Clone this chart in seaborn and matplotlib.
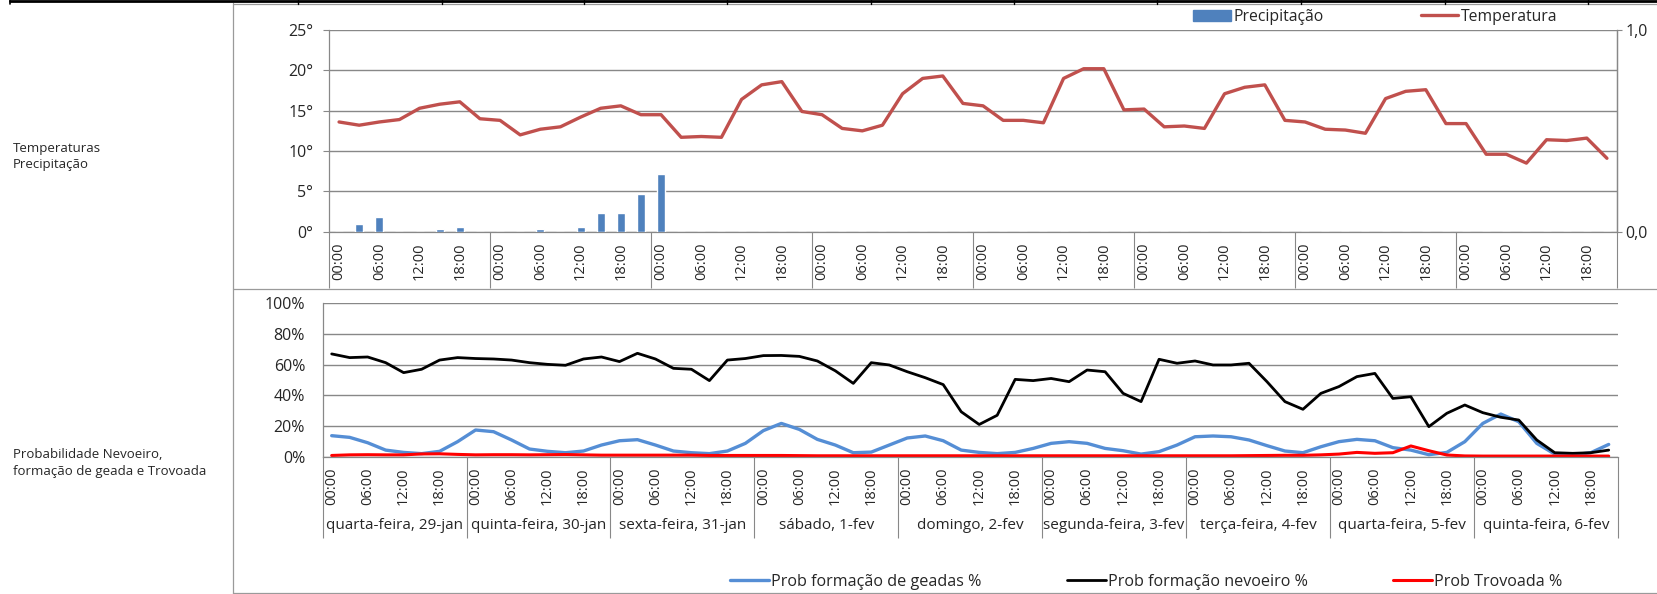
import numpy as np
import pandas as pd
import matplotlib
matplotlib.use('Agg')
import matplotlib.pyplot as plt
import seaborn as sns
from matplotlib.lines import Line2D
from matplotlib.patches import Patch

# dias e horas (eixo de categorias, passos de 3h)
days = ['quarta-feira, 29-jan', 'quinta-feira, 30-jan', 'sexta-feira, 31-jan',
        'sábado, 1-fev', 'domingo, 2-fev', 'segunda-feira, 3-fev',
        'terça-feira, 4-fev', 'quarta-feira, 5-fev', 'quinta-feira, 6-fev']
hour_labels = ['00:00', '', '06:00', '', '12:00', '', '18:00', '']

# painel de cima: 8 dias x 8
temperatura = [13.6, 13.2, 13.6, 13.9, 15.3, 15.8, 16.1, 14.0,
               13.8, 12.0, 12.7, 13.0, 14.2, 15.3, 15.6, 14.5,
               14.5, 11.7, 11.8, 11.7, 16.4, 18.2, 18.6, 14.9,
               14.5, 12.8, 12.5, 13.2, 17.1, 19.0, 19.3, 15.9,
               15.6, 13.8, 13.8, 13.5, 19.0, 20.2, 20.2, 15.1,
               15.2, 13.0, 13.1, 12.8, 17.1, 17.9, 18.2, 13.8,
               13.6, 12.7, 12.6, 12.2, 16.5, 17.4, 17.6, 13.4,
               13.4, 9.6, 9.6, 8.5, 11.4, 11.3, 11.6, 9.1]
precipitacao = [0, 0.9, 1.8, 0, 0, 0.3, 0.6, 0,
                0, 0, 0.3, 0, 0.6, 2.3, 2.3, 4.7,
                7.2, 0, 0, 0, 0, 0, 0, 0,
                0, 0, 0, 0, 0, 0, 0, 0,
                0, 0, 0, 0, 0, 0, 0, 0,
                0, 0, 0, 0, 0, 0, 0, 0,
                0, 0, 0, 0, 0, 0, 0, 0,
                0, 0, 0, 0, 0, 0, 0, 0]

# painel de baixo: 9 dias x 8 (%)
prob_nevoeiro = [67, 64.6, 65, 61.3, 54.8, 57, 63, 64.6,
                 64, 63.7, 63, 61.3, 60.2, 59.6, 63.7, 65,
                 62, 67.4, 63.7, 57.6, 57, 49.6, 63, 64,
                 65.9, 66, 65.4, 62.4, 56, 47.8, 61.3, 59.8,
                 55.4, 51.5, 47, 29.3, 21, 27, 50.4, 49.6,
                 51, 48.9, 56.5, 55.4, 41.3, 35.9, 63.5, 60.9,
                 62.4, 59.8, 59.8, 60.9, 48.9, 35.9, 30.9, 41.3,
                 45.7, 52.2, 54.3, 38, 39.1, 19.6, 28.3, 33.7,
                 28.7, 25.7, 23.9, 10.9, 2.6, 2.2, 2.6, 4.3]
prob_geada = [13.7, 12.6, 9.1, 4.3, 2.8, 2.0, 3.5, 9.8,
              17.4, 16.3, 10.9, 5.0, 3.5, 2.6, 3.7, 7.6,
              10.4, 11.1, 7.6, 3.7, 2.6, 2.0, 3.7, 8.7,
              17.0, 21.7, 17.8, 11.3, 7.6, 2.6, 3.0, 7.6,
              12.2, 13.5, 10.4, 4.3, 2.8, 2.0, 2.8, 5.4,
              8.7, 9.8, 8.7, 5.4, 3.9, 1.7, 3.3, 7.6,
              13.0, 13.5, 13.0, 10.9, 7.2, 3.7, 2.6, 6.5,
              9.8, 11.3, 10.4, 5.9, 4.3, 1.3, 2.8, 9.8,
              21.7, 27.8, 22.8, 8.7, 1.7, 1.1, 2.6, 8.0]
prob_trovoada = [0.8, 1.2, 1.3, 1.2, 1.2, 1.8, 1.9, 1.5,
                 1.2, 1.3, 1.3, 1.2, 1.3, 1.4, 1.2, 1.0,
                 1.0, 1.0, 1.0, 1.0, 1.0, 0.8, 0.8, 0.8,
                 0.8, 0.8, 0.7, 0.6, 0.6, 0.6, 0.6, 0.6,
                 0.6, 0.6, 0.6, 0.6, 0.6, 0.6, 0.6, 0.6,
                 0.6, 0.6, 0.6, 0.6, 0.6, 0.6, 0.6, 0.6,
                 0.6, 0.6, 0.6, 0.7, 0.8, 0.9, 0.9, 1.2,
                 1.7, 2.8, 2.2, 2.6, 7.0, 3.9, 1.1, 0.5,
                 0.4, 0.4, 0.4, 0.4, 0.4, 0.4, 0.4, 0.4]

c_bar = '#4F81BD'
c_temp = '#C0504D'
c_geada = '#558ED5'
c_nev = '#000000'
c_trov = '#FF0000'
c_grid = '#888888'

sns.set_style('white')
plt.rcParams['font.family'] = ['Open Sans', 'DejaVu Sans']
plt.rcParams['font.size'] = 10

W, H = 1657, 594
fig = plt.figure(figsize=(W / 100, H / 100), dpi=100)

def fx(px):
    return px / W

def fy(py):
    return 1 - py / H

# ---- painel de cima ----
ax1 = fig.add_axes([fx(329), fy(231.7), fx(1617 - 329), (231.7 - 30) / H])
n1 = len(temperatura)
top = pd.DataFrame({'pos': np.arange(n1), 'Temperatura': temperatura,
                    'Precipitação': precipitacao})
sns.barplot(data=top, x='pos', y='Precipitação', color=c_bar, saturation=1,
            width=0.4, native_scale=True, ax=ax1, zorder=3)
sns.lineplot(data=top, x='pos', y='Temperatura', color=c_temp, lw=2.4,
             ax=ax1, zorder=4)
ax1.set_xlim(-0.5, n1 - 0.5)
ax1.set_ylim(0, 25)
ax1.set_yticks(range(0, 26, 5))
ax1.set_yticklabels([f'{v}°' for v in range(0, 26, 5)])
ax1.set_xlabel('')
ax1.set_ylabel('')
ax1.grid(axis='y', color=c_grid, lw=1.0)
ax1.set_axisbelow(True)
ax1.set_xticks(np.arange(n1))
ax1.set_xticklabels(hour_labels * (n1 // 8))
ax1.set_xticks(np.arange(n1 + 1) - 0.5, minor=True)
ax1.tick_params(axis='x', which='major', length=0, pad=8, rotation=90, labelsize=10.5)
ax1.tick_params(axis='x', which='minor', length=36, color=c_grid, width=0.8)
ax1.tick_params(axis='y', length=4.3, color=c_grid, width=0.8, pad=7, labelsize=11.5)
for s in ax1.spines.values():
    s.set_color(c_grid)
    s.set_linewidth(0.9)
ax1.spines['top'].set_visible(False)

sec1 = ax1.secondary_xaxis('bottom')
sec1.set_xticks(np.arange(0, n1 + 1, 8) - 0.5)
sec1.set_xticklabels([])
sec1.tick_params(length=40, color=c_grid, width=0.8)
sec1.spines['bottom'].set_visible(False)

ax1r = ax1.twinx()
ax1r.set_ylim(0, 1)
ax1r.set_yticks([0, 1])
ax1r.set_yticklabels(['0,0', '1,0'])
ax1r.tick_params(axis='y', length=3.5, color=c_grid, width=0.8, pad=2.5, labelsize=11.5)
for k, s in ax1r.spines.items():
    s.set_visible(k == 'right')
    s.set_color(c_grid)
    s.set_linewidth(0.9)

# ---- painel de baixo ----
ax2 = fig.add_axes([fx(322.7), fy(456.7), fx(1617.7 - 322.7), (456.7 - 303.3) / H])
n2 = len(prob_nevoeiro)
bot = pd.DataFrame({'pos': np.arange(n2), 'geada': prob_geada,
                    'nevoeiro': prob_nevoeiro, 'trovoada': prob_trovoada})
sns.lineplot(data=bot, x='pos', y='geada', color=c_geada, lw=2.4, ax=ax2)
sns.lineplot(data=bot, x='pos', y='nevoeiro', color=c_nev, lw=2.0, ax=ax2)
sns.lineplot(data=bot, x='pos', y='trovoada', color=c_trov, lw=2.2, ax=ax2)
ax2.set_xlim(-0.5, n2 - 0.5)
ax2.set_ylim(0, 100)
ax2.set_yticks(range(0, 101, 20))
ax2.set_yticklabels([f'{v}%' for v in range(0, 101, 20)])
ax2.set_xlabel('')
ax2.set_ylabel('')
ax2.grid(axis='y', color=c_grid, lw=1.0)
ax2.set_axisbelow(True)
ax2.set_xticks(np.arange(n2))
ax2.set_xticklabels(hour_labels * len(days))
ax2.set_xticks(np.arange(n2 + 1) - 0.5, minor=True)
ax2.tick_params(axis='x', which='major', length=0, pad=8, rotation=90, labelsize=10.5)
ax2.tick_params(axis='x', which='minor', length=36, color=c_grid, width=0.8)
ax2.tick_params(axis='y', length=4.3, color=c_grid, width=0.8, pad=8.4, labelsize=11.5)
for s in ax2.spines.values():
    s.set_color(c_grid)
    s.set_linewidth(0.9)
ax2.spines['top'].set_visible(False)
ax2.spines['right'].set_visible(False)

sec2 = ax2.secondary_xaxis('bottom')
sec2.set_xticks(np.arange(0, n2 + 1, 8) - 0.5)
sec2.set_xticklabels([])
sec2.set_xticks(np.arange(len(days)) * 8 + 3.5, labels=days, minor=True)
sec2.tick_params(which='major', length=58, color=c_grid, width=0.8)
sec2.tick_params(which='minor', length=0, pad=44, labelsize=11)
sec2.spines['bottom'].set_visible(False)

# ---- legendas ----
fig.legend([Patch(color=c_bar), Line2D([], [], color=c_temp, lw=2.4)],
           ['Precipitação', 'Temperatura'], loc='center left',
           bbox_to_anchor=(fx(1193), fy(17)), ncol=2, frameon=False,
           handlelength=2.4, handleheight=0.75, handletextpad=0.15,
           columnspacing=6.2, fontsize=11.3, borderpad=0, borderaxespad=0)
fig.legend([Line2D([], [], color=c_geada, lw=2.4),
            Line2D([], [], color=c_nev, lw=2.0),
            Line2D([], [], color=c_trov, lw=2.2)],
           ['Prob formação de geadas %', 'Prob formação nevoeiro %', 'Prob Trovoada %'],
           loc='center left', bbox_to_anchor=(fx(730), fy(582)), ncol=3,
           frameon=False, handlelength=2.4, handletextpad=0.15,
           columnspacing=5.3, fontsize=11.6, borderpad=0, borderaxespad=0)

# ---- textos à esquerda ----
fig.text(fx(13), fy(156.5), 'Temperaturas\nPrecipitação', ha='left', va='center',
         fontsize=9.5, linespacing=1.35)
fig.text(fx(13), fy(463), 'Probabilidade Nevoeiro,\nformação de geada e Trovoada',
         ha='left', va='center', fontsize=9.5, linespacing=1.35)

# ---- moldura tipo folha de cálculo ----
def fline(xs, ys, color='#9a9a9a', lw=0.9):
    fig.add_artist(Line2D([fx(v) for v in xs], [fy(v) for v in ys],
                          transform=fig.transFigure, color=color, lw=lw))

fline([233, 233], [3, 594])
fline([233, W], [3.5, 3.5])
fline([233, W], [288.5, 288.5])
fline([233, W], [593, 593])
fline([10, W], [1, 1], color='black', lw=2.0)
fline([10, 10], [0, 4], color='black', lw=1.2)
for xc in [298, 442, 584, 727, 871, 1014, 1157, 1301, 1445, 1588]:
    fline([xc, xc], [0, 4], color='black', lw=1.0)

fig.savefig('out.png', dpi=100)
